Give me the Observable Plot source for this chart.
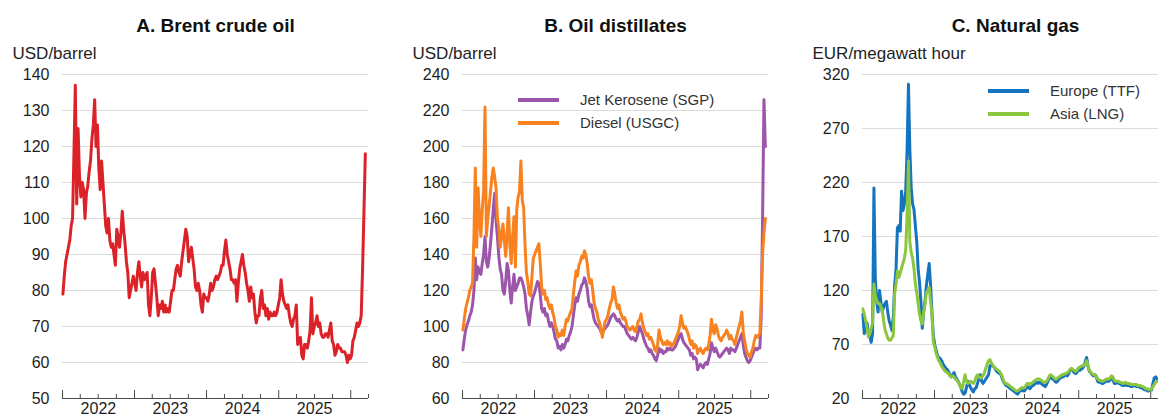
<!DOCTYPE html>
<html><head><meta charset="utf-8">
<script src="https://cdn.jsdelivr.net/npm/d3@7"></script>
<script src="https://cdn.jsdelivr.net/npm/@observablehq/plot@0.6"></script>
<style>
html,body{margin:0;padding:0;background:#fff;overflow:hidden;}
#wrap{position:relative;width:1158px;height:416px;overflow:hidden;font-family:"Liberation Sans",Arial,sans-serif;}
.panel{position:absolute;top:0;width:390px;height:416px;}
.panel svg{max-width:none !important;}
.lg{position:absolute;font-size:15px;line-height:18px;color:#333;white-space:nowrap;}
.sw{position:absolute;height:4px;width:41px;}
</style></head><body><div id="wrap"></div>
<script>
// Weekly observations starting Monday 3 Jan 2022 (one value per week)
const brent = [
79,84,88,90,92,94,98,100,118,137,104,125,112,106,110,108,100,107,109,113,116,122,126,133,120,126,114,108,116,110,104,98,96,100,94,92,93,90,87,97,95,92,96,102,97,93,88,85,78,80,82,84,
82,80,85,88,84,81,85,83,84,85,76,73,78,85,86,82,78,73,76,75,77,74,76,74,75,74,77,80,80,83,86,87,85,84,88,91,94,97,95,88,90,92,89,86,81,80,82,80,76,74,79,78,
78,77,79,82,80,81,83,84,83,84,85,87,87,91,94,90,88,86,83,83,82,83,77,82,86,88,90,87,85,82,80,77,81,78,79,74,71,73,73,78,80,75,76,73,75,72,74,73,73,74,73,74,76,
78,83,79,77,76,75,76,73,71,70,72,73,76,65,66,67,62,61,65,65,64,66,69,78,68,70,71,73,70,71,68,67,67,68,68,67,69,71,66,65,62,63,65,64,64,63,63,63,62,60,62,61,
62,66,67,69,71,70,71,73,86,102,118];
const jet = [
87,93,98,101,103,106,108,112,120,138,126,133,130,129,135,140,150,136,133,138,146,155,165,174,159,150,139,132,129,120,118,125,135,131,120,113,122,129,120,122,124,127,127,125,122,118,110,106,101,108,114,117,
119,122,125,124,118,110,108,110,106,107,103,100,102,100,97,93,92,88,89,87,90,88,90,93,92,95,97,100,106,112,116,114,118,120,123,124,127,125,121,114,111,112,108,104,102,101,100,99,97,96,98,99,
100,101,103,105,106,107,106,104,103,104,102,101,100,100,98,96,95,94,93,94,93,92,94,97,100,98,96,93,91,89,88,86,87,85,84,82,81,84,88,86,87,85,86,86,88,87,88,87,87,88,89,91,93,
95,96,93,91,90,89,88,87,84,85,82,83,82,76,78,79,78,77,79,80,79,82,85,91,88,86,88,86,84,83,84,85,86,87,88,87,85,88,87,87,86,88,90,92,94,96,90,85,83,81,80,81,
83,85,87,88,87,88,88,105,160,226,200];
const diesel = [
98,104,110,113,116,120,122,124,150,188,144,177,160,150,165,175,222,150,160,167,175,183,188,183,177,160,155,144,150,157,148,139,152,166,145,135,150,161,133,165,172,175,192,170,166,145,130,125,118,117,128,138,
140,142,144,146,135,122,118,120,115,116,112,110,112,108,105,100,98,94,96,95,98,95,100,104,103,106,108,110,118,125,131,128,134,136,139,138,142,140,135,128,124,126,120,113,110,108,104,102,98,94,99,103,
104,106,110,113,115,122,118,113,110,112,108,106,104,105,103,100,99,98,99,100,98,97,100,103,104,107,102,99,97,95,96,93,94,92,90,87,86,90,98,94,92,90,91,90,92,90,91,89,90,91,93,95,97,
100,106,102,99,100,98,96,93,90,92,88,90,89,85,87,88,86,85,87,88,87,90,95,104,98,96,101,99,95,93,92,94,95,96,98,96,93,95,93,92,90,94,97,100,103,108,97,92,88,85,84,83,
86,88,92,95,94,95,96,114,140,152,160];
const ttf = [
98,80,85,90,80,78,72,80,215,130,110,100,120,110,100,105,108,110,100,92,88,83,95,125,140,178,180,175,212,194,200,212,250,311,250,215,200,195,180,165,140,128,110,85,100,110,125,135,145,125,100,78,
70,65,60,58,57,55,52,50,48,47,45,42,40,42,44,40,38,36,33,30,26,24,25,30,36,33,30,28,26,29,30,34,38,42,36,34,36,38,40,42,50,52,50,49,47,45,44,43,42,38,35,33,
32,31,30,29,28,27,26,25,24,26,27,28,27,27,29,31,30,29,31,32,33,34,35,34,35,34,33,32,31,33,36,39,40,38,38,36,35,36,38,39,40,40,41,42,41,43,46,47,46,44,43,44,48,
46,47,48,50,54,58,50,45,44,42,41,42,40,36,35,35,34,34,35,36,36,36,37,40,38,34,34,35,34,34,33,32,32,33,32,32,32,31,31,32,32,31,31,31,30,30,29,28,28,27,27,28,
28,34,39,40,38];
const lng = [
103,98,92,85,77,80,85,90,126,115,111,108,108,105,102,92,84,80,76,74,74,76,78,117,126,138,132,136,141,145,150,157,190,240,165,155,150,140,126,118,108,98,92,89,100,108,118,120,123,110,98,72,
68,62,58,55,53,50,48,46,45,44,43,41,40,41,40,38,37,35,33,30,29,36,42,36,34,35,36,35,34,36,40,42,40,39,40,41,44,48,52,55,56,53,51,49,48,47,46,45,43,40,36,34,
34,33,32,31,30,29,28,27,27,28,29,30,30,30,32,34,34,33,34,35,36,37,38,38,38,37,36,35,35,36,38,41,42,41,40,38,38,39,40,41,42,42,43,43,44,45,47,48,47,46,45,46,48,
49,50,50,51,52,55,50,46,44,43,42,42,41,38,37,37,36,36,37,38,38,38,39,41,40,37,36,36,36,35,35,34,34,35,34,34,34,33,33,33,33,33,32,32,32,31,31,30,29,29,28,28,
29,31,33,35,36];

const yearLabels = ["2022","2023","2024","2025"];
const ticksA = [50,60,70,80,90,100,110,120,130,140];
const ticksB = [60,80,100,120,140,160,180,200,220,240];
const ticksC = [20,70,120,170,220,270,320];

const titles = ["A. Brent crude oil","B. Oil distillates","C. Natural gas"];
const units = ["USD/barrel","USD/barrel","EUR/megawatt hour"];
const names = {jet:"Jet Kerosene (SGP)", diesel:"Diesel (USGC)", ttf:"Europe (TTF)", lng:"Asia (LNG)"};
const colors = {brent:"#dc2229", jet:"#9b55aa", diesel:"#f7821f", ttf:"#1574c0", lng:"#8cc63f"};

const t0 = Date.UTC(2022,0,3);
const toRows = arr => arr.map((v,i) => ({date: new Date(t0 + i*7*864e5), value: v}));

const xDomain = [new Date(Date.UTC(2022,0,1)), new Date(Date.UTC(2026,3,1))];
const qTicks = d3.utcMonth.every(3).range(new Date(Date.UTC(2022,0,1)), new Date(Date.UTC(2026,3,2)));
const majorT = qTicks.filter(d => d.getUTCMonth() === 0);
const minorT = qTicks.filter(d => d.getUTCMonth() !== 0);

const W = 390, H = 416, MT = 74, MB = 18, ML = 62, MR = 22;
const PH = H - MT - MB;

function panel(k, yTicks, lines) {
  const yDomain = [yTicks[0], yTicks[yTicks.length-1]];
  const marks = [
    Plot.ruleY(yTicks.slice(1), {stroke:"#dcdcdc", strokeWidth:1}),
    Plot.axisY(yTicks, {tickSize:0, tickPadding:13, fontSize:16, fill:"#1e1e1e", label:null}),
    Plot.ruleY([yDomain[0]], {stroke:"#4a4a4a", strokeWidth:1}),
    Plot.tickX(minorT, {x:d=>d, insetTop:PH-4, stroke:"#4a4a4a", strokeWidth:1}),
    Plot.tickX(majorT, {x:d=>d, insetTop:PH-8, stroke:"#4a4a4a", strokeWidth:1}),
    Plot.text(yearLabels, {x:d=>new Date(Date.UTC(+d,6,2)), text:d=>d, frameAnchor:"bottom", dy:10, lineAnchor:"middle", fontSize:16, fill:"#1e1e1e"}),
    ...lines.map(([arr,c]) => Plot.line(toRows(arr), {x:"date", y:"value", stroke:c, strokeWidth:3, strokeLinejoin:"round"})),
    Plot.text([titles[k]], {frameAnchor:"top", dy:-49, lineAnchor:"middle", fontSize:19, fontWeight:"bold", fill:"#111"}),
    Plot.text([units[k]], {frameAnchor:"top-left", dx:12-ML, dy:-21, textAnchor:"start", lineAnchor:"middle", fontSize:17, fill:"#1e1e1e"})
  ];
  const svg = Plot.plot({
    width: W, height: H, marginTop: MT, marginBottom: MB, marginLeft: ML, marginRight: MR,
    x: {type:"utc", domain: xDomain, axis: null},
    y: {domain: yDomain, axis: null},
    style: {fontFamily:'"Liberation Sans", Arial, sans-serif', background:"white", overflow:"visible", maxWidth:"none"},
    marks
  });
  svg.style.maxWidth = "none";
  svg.style.width = W + "px";
  svg.style.height = H + "px";
  const div = document.createElement("div");
  div.className = "panel";
  div.style.left = (k*400) + "px";
  div.appendChild(svg);
  document.getElementById("wrap").appendChild(div);
}

panel(0, ticksA, [[brent, colors.brent]]);
panel(1, ticksB, [[jet, colors.jet], [diesel, colors.diesel]]);
panel(2, ticksC, [[ttf, colors.ttf], [lng, colors.lng]]);

function legend(items, swLeft, txtLeft, ys) {
  const wrap = document.getElementById("wrap");
  items.forEach(([label, color], i) => {
    const sw = document.createElement("div");
    sw.className = "sw"; sw.style.background = color;
    sw.style.left = swLeft + "px"; sw.style.top = (ys[i]-2) + "px";
    wrap.appendChild(sw);
    const t = document.createElement("div");
    t.className = "lg"; t.textContent = label;
    t.style.left = txtLeft + "px"; t.style.top = (ys[i]-9) + "px";
    wrap.appendChild(t);
  });
}
legend([[names.jet, colors.jet],[names.diesel, colors.diesel]], 518, 580, [100, 123]);
legend([[names.ttf, colors.ttf],[names.lng, colors.lng]], 988, 1050, [91, 114]);
</script></body></html>
